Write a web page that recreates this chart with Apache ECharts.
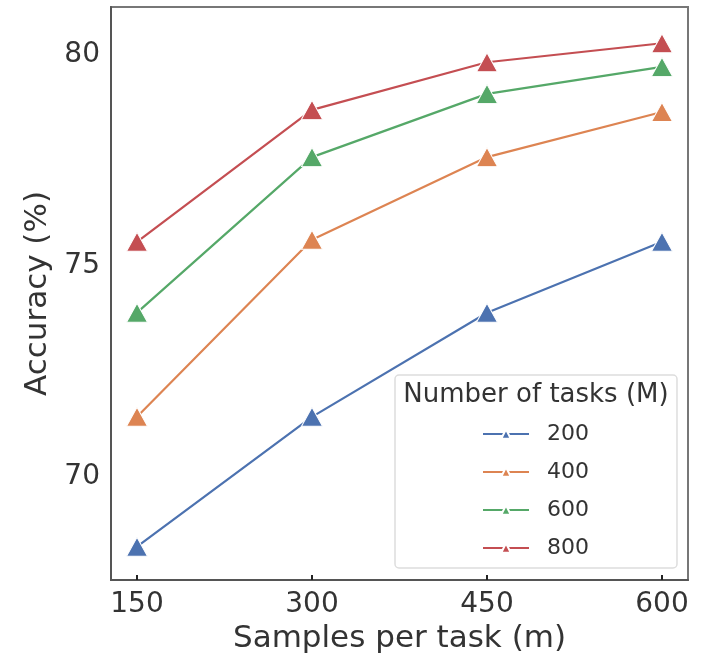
<!DOCTYPE html>
<html>
<head>
<meta charset="utf-8">
<script src="https://cdn.jsdelivr.net/npm/echarts@6/dist/echarts.min.js"></script>
<style>
  html, body { margin: 0; padding: 0; background: #fff; }
  #chart { width: 711px; height: 655px; }
</style>
</head>
<body>
<div id="chart"></div>
<script>
var samples = [150, 300, 450, 600];
var xTicks = [150, 300, 450, 600];
var yTicks = [70, 75, 80];
var taskNames = ['200', '400', '600', '800'];
var acc200 = [68.34, 71.42, 73.89, 75.57];
var acc400 = [71.42, 75.62, 77.58, 78.65];
var acc600 = [73.89, 77.58, 79.08, 79.72];
var acc800 = [75.57, 78.70, 79.83, 80.28];
var colors = ['#4C72B0', '#DD8452', '#55A868', '#C44E52'];

var font = 'DejaVu Sans';
var allAcc = [acc200, acc400, acc600, acc800];

var series = [];
for (var i = 0; i < taskNames.length; i++) {
  series.push({
    name: taskNames[i],
    type: 'line',
    data: samples.map(function (s, j) { return [s, allAcc[i][j]]; }),
    symbol: 'triangle',
    symbolSize: [21, 19],
    lineStyle: { color: colors[i], width: 2.2 },
    itemStyle: { color: colors[i], borderColor: '#fff', borderWidth: 1 },
    emphasis: { disabled: true }
  });
}

var chart = echarts.init(document.getElementById('chart'));
chart.setOption({
  animation: false,
  grid: {
    left: 111, right: 23, top: 7, bottom: 75,
    outerBoundsMode: 'none',
    containLabel: false,
    show: true, borderColor: '#777', borderWidth: 2
  },
  xAxis: {
    type: 'value',
    min: 127.7, max: 622.3,
    name: 'Samples per task (m)',
    nameLocation: 'middle',
    nameGap: 41,
    nameTextStyle: { fontFamily: font, fontSize: 31, color: '#333' },
    axisLine: { show: true, lineStyle: { color: '#555', width: 2 } },
    axisTick: { show: true, inside: true, length: 5, customValues: xTicks, lineStyle: { color: '#222', width: 2 } },
    axisLabel: { customValues: xTicks, fontFamily: font, fontSize: 28, color: '#333', margin: 11 },
    splitLine: { show: false }
  },
  yAxis: {
    type: 'value',
    min: 67.55, max: 81.14,
    name: 'Accuracy (%)',
    nameLocation: 'middle',
    nameGap: 56,
    nameTextStyle: { fontFamily: font, fontSize: 31, color: '#333' },
    axisLine: { show: true, lineStyle: { color: '#555', width: 2 } },
    axisTick: { show: false },
    axisLabel: { customValues: yTicks, fontFamily: font, fontSize: 28, color: '#333', margin: 11 },
    splitLine: { show: false }
  },
  legend: {
    orient: 'vertical',
    left: 395, top: 375,
    padding: [47, 88, 8, 87],
    itemWidth: 46, itemHeight: 12,
    itemGap: 14,
    backgroundColor: 'rgba(255,255,255,0.85)',
    borderColor: '#ddd', borderWidth: 1.5, borderRadius: 4,
    textStyle: { fontFamily: font, fontSize: 22, color: '#333', lineHeight: 24, padding: [0, 0, 0, 13] },
    data: taskNames
  },
  graphic: [{
    type: 'text', x: 536, y: 395, z: 100,
    style: {
      text: 'Number of tasks (M)', fill: '#333',
      font: '26px "DejaVu Sans"', textAlign: 'center', textVerticalAlign: 'middle'
    }
  }],
  series: series
});
</script>
</body>
</html>
